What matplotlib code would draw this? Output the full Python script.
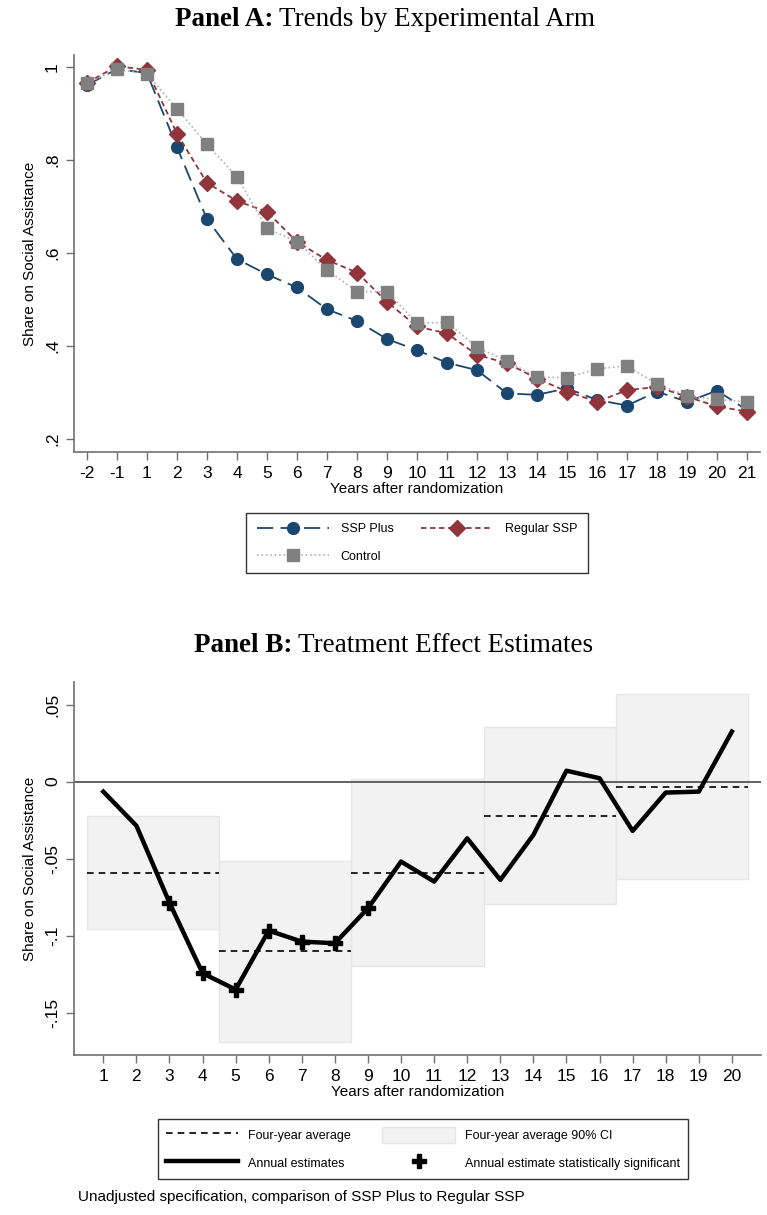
import numpy as np
import matplotlib
matplotlib.use("Agg")
import matplotlib.pyplot as plt
from matplotlib.patches import Patch
from matplotlib.lines import Line2D

plt.rcParams['font.family'] = ['Liberation Sans', 'DejaVu Sans']

# Panel A data
years_a = ['-2', '-1', '1', '2', '3', '4', '5', '6', '7', '8', '9', '10', '11',
           '12', '13', '14', '15', '16', '17', '18', '19', '20', '21']
ssp_plus = [0.961, 0.996, 0.987, 0.828, 0.673, 0.587, 0.554, 0.526, 0.479, 0.454,
            0.415, 0.391, 0.364, 0.348, 0.298, 0.295, 0.309, 0.284, 0.272, 0.302,
            0.280, 0.304, 0.262]
regular_ssp = [0.966, 1.002, 0.994, 0.857, 0.751, 0.712, 0.689, 0.624, 0.585, 0.558,
               0.495, 0.442, 0.427, 0.381, 0.363, 0.330, 0.302, 0.280, 0.305, 0.312,
               0.291, 0.270, 0.259]
control = [0.965, 0.995, 0.986, 0.910, 0.834, 0.764, 0.653, 0.624, 0.564, 0.517,
           0.517, 0.449, 0.451, 0.397, 0.368, 0.333, 0.332, 0.351, 0.357, 0.318,
           0.293, 0.285, 0.280]

# Panel B data
years_b = np.arange(1, 21)
annual = [-0.0065, -0.0286, -0.0786, -0.1244, -0.135, -0.0967, -0.1039, -0.1049,
          -0.0822, -0.0519, -0.0649, -0.0368, -0.0638, -0.0346, 0.0071, 0.0022,
          -0.032, -0.0071, -0.0065, 0.0325]
significant = [False, False, True, True, True, True, True, True, True, False,
               False, False, False, False, False, False, False, False, False, False]
block_start = [1, 5, 9, 13, 17]
block_avg = [-0.0591, -0.1101, -0.0591, -0.0221, -0.0032]
ci_low = [-0.0958, -0.1688, -0.1195, -0.0794, -0.0632]
ci_high = [-0.0223, -0.0513, 0.0016, 0.0357, 0.057]

navy = '#1a476f'
maroon = '#90353b'
grey = '#808080'
axis_col = '#707070'

W, H = 767, 1215
fig = plt.figure(figsize=(W / 100, H / 100), dpi=100)


def style_axes(ax):
    for s in ['top', 'right']:
        ax.spines[s].set_visible(False)
    for s in ['left', 'bottom']:
        ax.spines[s].set_color(axis_col)
        ax.spines[s].set_linewidth(1.2)
    ax.tick_params(axis='both', direction='out', length=6, width=1, color=axis_col,
                   labelsize=12.5, pad=4)
    ax.tick_params(axis='y', labelrotation=90)
    for lab in ax.get_yticklabels():
        lab.set_va('center')


def mixed_title(xb, xr, y, bold, rest):
    fig.text(xb / W, 1 - y / H, bold, fontsize=19.5, fontweight='bold',
             family='Liberation Serif', ha='right', va='center')
    fig.text(xr / W, 1 - y / H, rest, fontsize=19.5,
             family='Liberation Serif', ha='left', va='center')


# ---- Panel A ----
axA = fig.add_axes([74 / W, 1 - 452 / H, 686 / W, 397 / H])
xa = np.arange(len(years_a))
axA.plot(xa, ssp_plus, color=navy, lw=1.3, dashes=(9, 4), marker='o', ms=8.5,
         label='SSP Plus')
axA.plot(xa, regular_ssp, color=maroon, lw=1.3, dashes=(3, 2), marker='D', ms=8,
         label='Regular SSP')
axA.plot(xa, control, color='#b0b0b0', lw=1.2, ls=':', marker='s', ms=8.5,
         mfc=grey, mec=grey, label='Control')
axA.set_xlim(-0.43, 22.43)
axA.set_ylim(0.172, 1.026)
axA.set_xticks(xa)
axA.set_xticklabels(years_a)
axA.set_yticks([0.2, 0.4, 0.6, 0.8, 1.0])
axA.set_yticklabels(['.2', '.4', '.6', '.8', '1'])
style_axes(axA)
axA.set_xlabel('Years after randomization', fontsize=11, labelpad=1)
axA.set_ylabel('Share on Social Assistance', fontsize=11, labelpad=6)

h = axA.get_legend_handles_labels()[0]
legA = axA.legend([h[0], h[2], h[1]], ['SSP Plus', 'Control', 'Regular SSP'], ncol=2,
                  loc='center', bbox_to_anchor=(417 / W, 1 - 543 / H),
                  bbox_transform=fig.transFigure, fontsize=9, frameon=True,
                  fancybox=False, edgecolor='black', handlelength=5.8,
                  columnspacing=2.2, labelspacing=1.25, borderpad=0.85,
                  handletextpad=0.9)
legA.get_frame().set_linewidth(1.0)

# ---- Panel B ----
axB = fig.add_axes([74 / W, 1 - 1055 / H, 687 / W, 373 / H])
for s, lo, hi, av in zip(block_start, ci_low, ci_high, block_avg):
    axB.fill_between([s - 0.5, s + 3.5], lo, hi, color='#f2f2f2', ec='#e6e6e6',
                     lw=1, zorder=1)
    axB.plot([s - 0.5, s + 3.5], [av, av], color='black', lw=1.2, ls=(0, (4, 3)),
             zorder=3)
axB.axhline(0, color='#555555', lw=1.3, zorder=2)
axB.plot(years_b, annual, color='black', lw=3.2, zorder=4)
sig_x = [x for x, s in zip(years_b, significant) if s]
sig_y = [v for v, s in zip(annual, significant) if s]
axB.plot(sig_x, sig_y, ls='none', marker='P', ms=10, color='black', zorder=5)
axB.set_xlim(0.114, 20.88)
axB.set_ylim(-0.1775, 0.0647)
axB.set_xticks(years_b)
axB.set_yticks([-0.15, -0.1, -0.05, 0, 0.05])
axB.set_yticklabels(['-.15', '-.1', '-.05', '0', '.05'])
style_axes(axB)
axB.set_xlabel('Years after randomization', fontsize=11, labelpad=1)
axB.set_ylabel('Share on Social Assistance', fontsize=11, labelpad=6)

hB = [Line2D([], [], color='black', lw=1.2, ls=(0, (4, 3))),
      Line2D([], [], color='black', lw=3.2),
      Patch(facecolor='#f2f2f2', edgecolor='#e6e6e6'),
      Line2D([], [], ls='none', marker='P', ms=10, color='black')]
lB = ['Four-year average', 'Annual estimates', 'Four-year average 90% CI',
      'Annual estimate statistically significant']
legB = axB.legend(hB, lB, ncol=2, loc='center',
                  bbox_to_anchor=(423 / W, 1 - 1149 / H),
                  bbox_transform=fig.transFigure, fontsize=9, frameon=True,
                  fancybox=False, edgecolor='black', handlelength=5.8,
                  handleheight=1.6, columnspacing=2.5, labelspacing=0.95,
                  borderpad=0.65, handletextpad=0.8)
legB.get_frame().set_linewidth(1.0)

mixed_title(273, 279, 20, 'Panel A:', 'Trends by Experimental Arm')
mixed_title(292, 298, 646, 'Panel B:', 'Treatment Effect Estimates')

fig.text(78 / W, 1 - 1197 / H, 'Unadjusted specification, comparison of SSP Plus to Regular SSP',
         fontsize=11, ha='left', va='center')

fig.savefig('out.png', dpi=100)
